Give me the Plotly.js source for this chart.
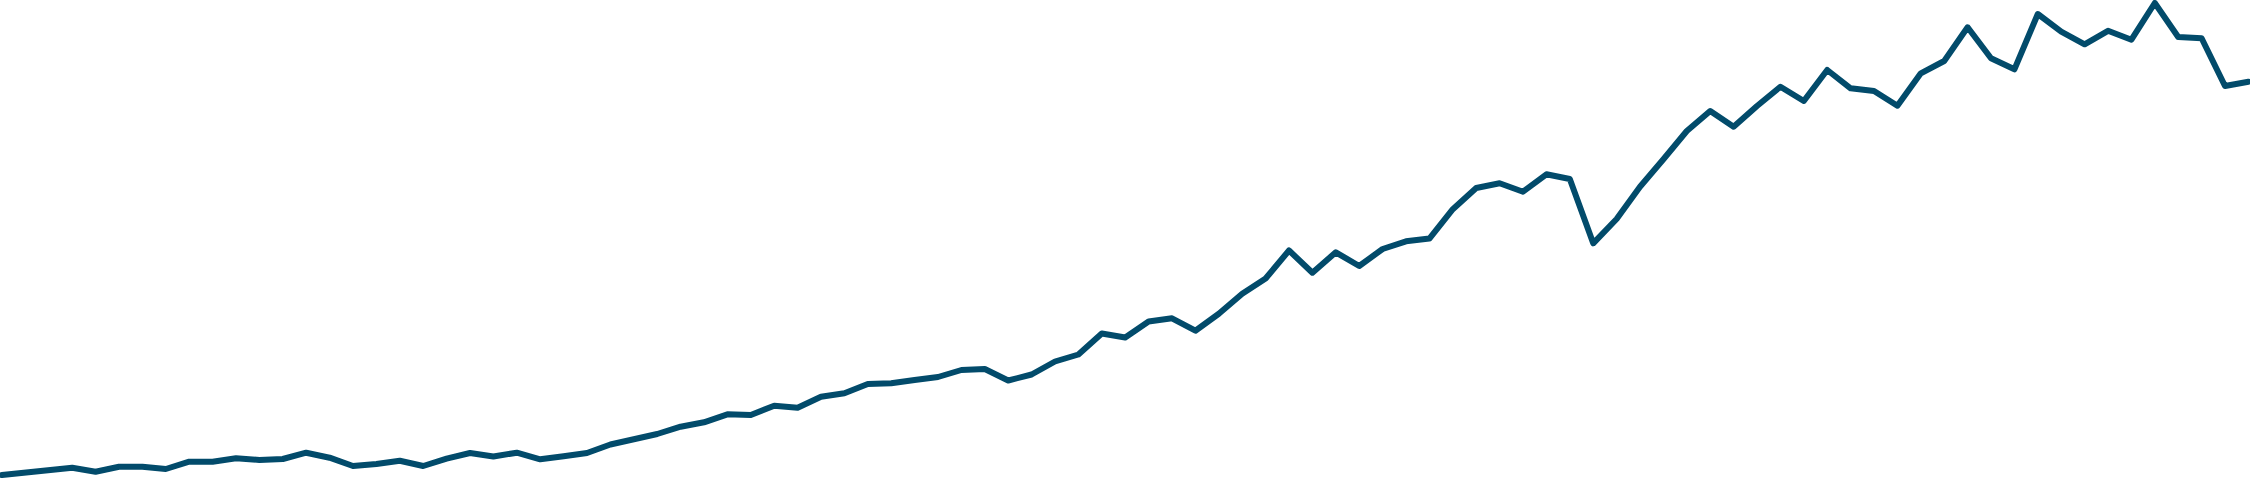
<!DOCTYPE html>
<html>
<head>
<meta charset="utf-8">
<script src="https://cdn.plot.ly/plotly-3.0.1.min.js"></script>
<style>
  html, body { margin: 0; padding: 0; background: #ffffff; overflow: hidden; }
  #chart { width: 2250px; height: 479px; }
  #chart .js-line { stroke-linejoin: round !important; stroke-linecap: round !important; }
</style>
</head>
<body>
<div id="chart"></div>
<script>
// Series values (one per period)
const periods = Array.from({length: 97}, (_, i) => i);
const values = [
  4, 6.2, 9, 11.3, 7.3, 12.3, 12.3, 10, 17.3, 17.3,
  20.7, 19, 20, 26.3, 21.3, 13, 15, 18.3, 13, 20.3,
  26, 22.5, 26.3, 19.7, 22.7, 26, 34.5, 39, 45, 52.3,
  56.7, 64.7, 64, 73.3, 71.3, 82.3, 85.7, 95, 95.7, 99,
  102, 109, 110, 98.5, 104.5, 117.5, 124.5, 145.5, 141.5, 157.5,
  160.7, 148.3, 165.3, 185.3, 200.5, 228.5, 206.3, 226.7, 213, 230,
  237.7, 240.4, 269.8, 291, 295.7, 287.3, 304.7, 300, 235.7, 260,
  292.3, 319.7, 348, 368, 352.3, 373, 392.3, 378, 409, 390.7,
  388, 373.3, 405.7, 418, 451.7, 420.7, 409.7, 465, 447.3, 434.7,
  448.2, 439.3, 476, 442, 440.7, 393, 397.3
];

const lineColor = '#024b6b';

const trace = {
  x: periods,
  y: values,
  type: 'scatter',
  mode: 'lines',
  line: { color: lineColor, width: 6, shape: 'linear' },
  cliponaxis: false,
  hoverinfo: 'none'
};

const layout = {
  width: 2250,
  height: 479,
  margin: { l: 0, r: 0, t: 0, b: 0, pad: 0 },
  paper_bgcolor: '#ffffff',
  plot_bgcolor: '#ffffff',
  showlegend: false,
  xaxis: { visible: false, range: [-0.0855, 96.068], fixedrange: true },
  yaxis: { visible: false, range: [0, 479], fixedrange: true }
};

Plotly.newPlot('chart', [trace], layout, { displayModeBar: false, staticPlot: true }).then(function (gd) {
  gd.querySelectorAll('.js-line').forEach(function (p) {
    p.style.strokeLinejoin = 'round';
    p.style.strokeLinecap = 'round';
  });
});
</script>
</body>
</html>
